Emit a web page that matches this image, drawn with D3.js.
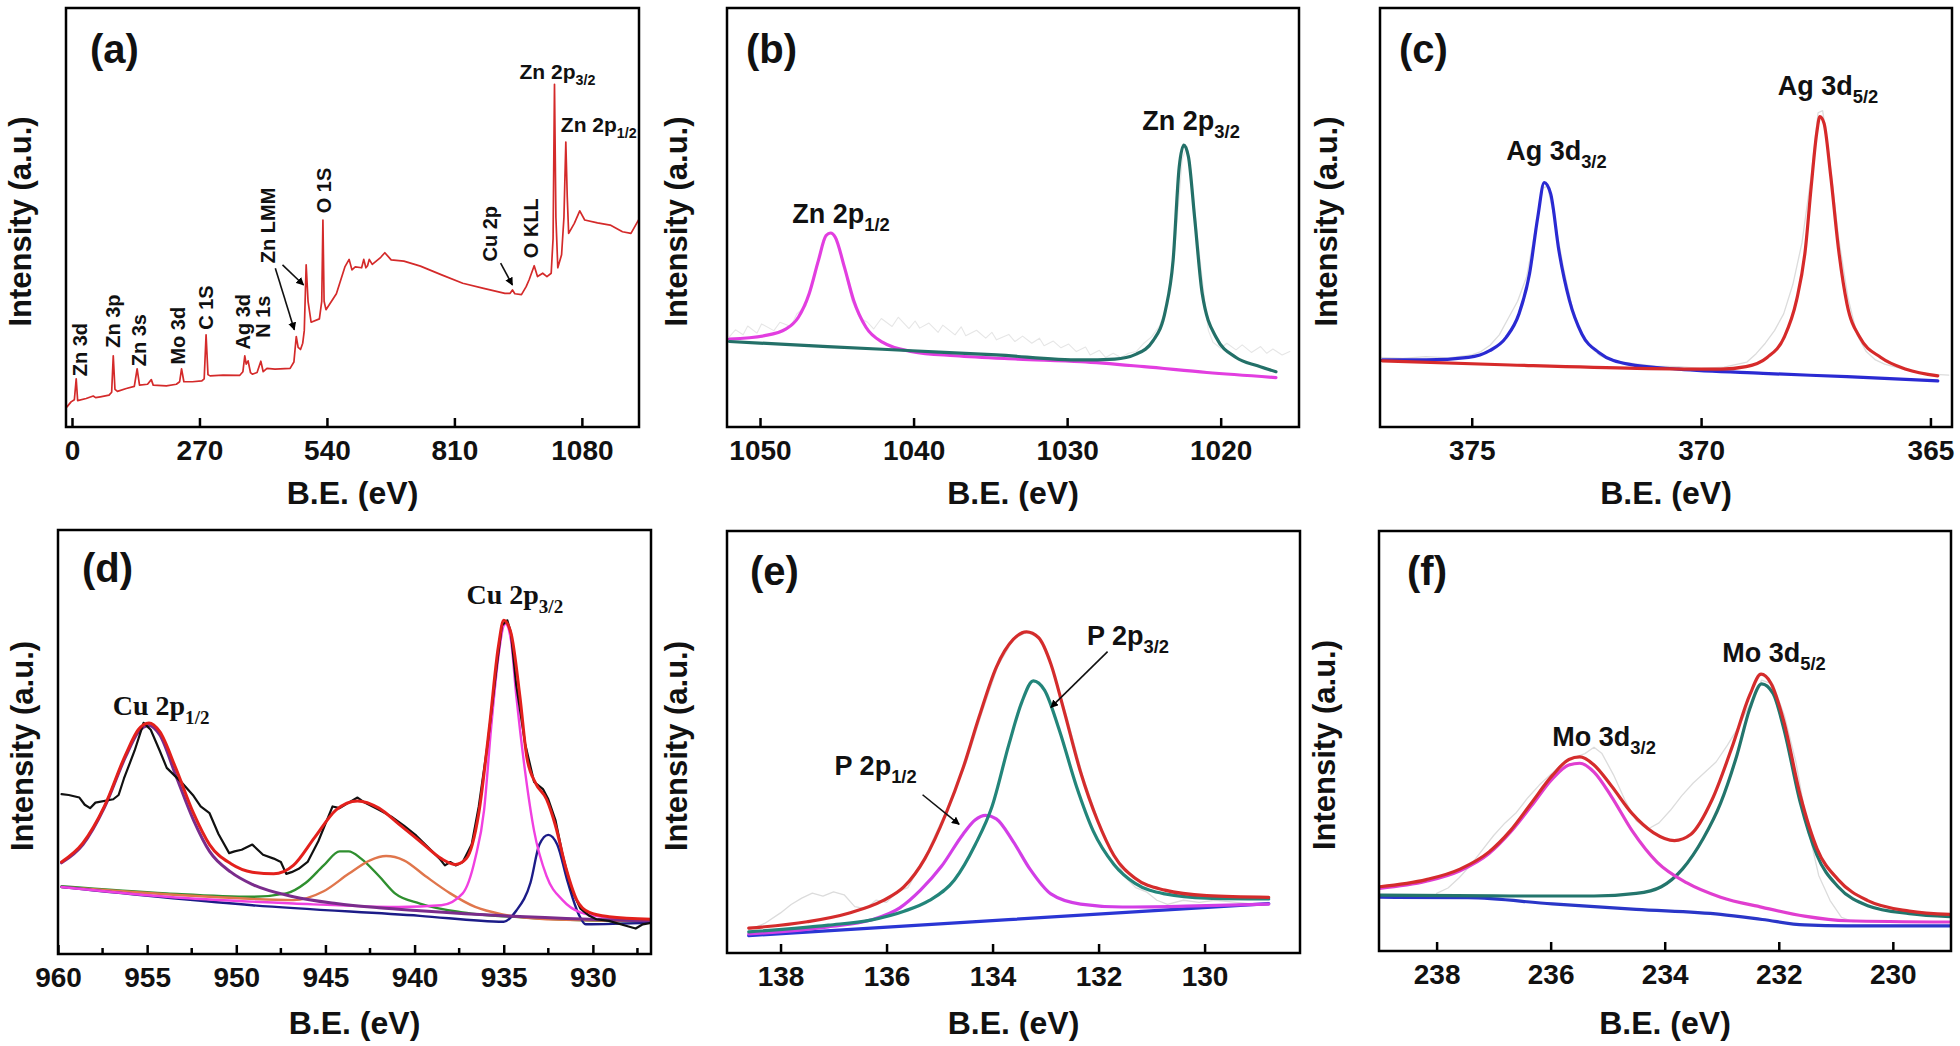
<!DOCTYPE html>
<html><head><meta charset="utf-8">
<script src="https://cdn.jsdelivr.net/npm/d3@7"></script>
<style>html,body{margin:0;padding:0;background:#fff}svg{display:block}</style>
</head><body>
<svg id="chart" width="1960" height="1046"></svg>
<script>
// ---------------- DATA (binding energy in eV, intensity in arbitrary units 0-100) ----------------
const ticksA = [0, 270, 540, 810, 1080];
const ticksB = [1050, 1040, 1030, 1020];
const ticksC = [375, 370, 365];
const ticksD = [960, 955, 950, 945, 940, 935, 930];
const minorD = [957.5, 952.5, 947.5, 942.5, 937.5, 932.5, 927.5];
const ticksE = [138, 136, 134, 132, 130];
const ticksF = [238, 236, 234, 232, 230];

const surveyData = [[-10.7,4.8],[-2,6.0],[5,6.5],[8.9,11.5],[12,6.3],[30,6.8],[45,7.4],[50,7.0],[60,7.2],[78.5,7.6],[84,8.3],[87.4,17.0],[91,9.0],[96.3,8.5],[115,9.2],[132,9.7],[138,13.9],[143,10.0],[160,10.2],[168,11.3],[172,10.0],[200,9.8],[221,10.2],[228,10.8],[232,13.9],[237,10.8],[255,10.8],[275,11.0],[280,11.5],[284,22.0],[288,12.5],[292.5,12.2],[320,12.4],[355,12.3],[362,13.2],[366,17.0],[369,15.0],[373,15.8],[378,13.0],[382,12.6],[392,13.0],[400,15.7],[405,13.2],[413,14.0],[430,13.8],[462,14.0],[470,15.5],[475,21.6],[479,19.0],[484,18.5],[488.7,20.0],[492,23.0],[496,38.7],[500,30.0],[506.5,25.0],[524,25.8],[529,30],[531.5,49.4],[534,30],[538,28.0],[560,31.8],[578,38.2],[587,40.0],[593,37.5],[600,38.2],[613.5,38.0],[618,40.0],[622.5,38.0],[626,38.5],[629.6,40.0],[636,38.8],[654,40.5],[662.6,41.6],[676,39.9],[703,39.6],[738,38.4],[783,36.3],[827.6,34.3],[872,33.1],[917,31.9],[928,31.9],[933,32.7],[938,31.8],[952,31.6],[962,33.5],[968.5,35.2],[979,38.5],[986,35.9],[997,36.7],[1006,35.9],[1015,36.7],[1019,45],[1022,81.8],[1025,50],[1029,38.0],[1037,41.1],[1042,50],[1046,68.0],[1049,55],[1052,46.2],[1064,48.6],[1075.5,51.6],[1086,49.4],[1113,48.7],[1140,48.2],[1166,46.6],[1184,46.2],[1198,49.0],[1202,49.8]];

const znRaw = [[1052.0,21.5],[1051.6,23.2],[1051.1,22.0],[1050.8,24.1],[1050.2,22.4],[1049.9,24.6],[1049.1,23.0],[1048.7,25.0],[1048.0,24.0],[1047.6,27.0],[1047,29],[1046.5,36],[1046,43],[1045.5,46.5],[1045,45],[1044.5,38],[1044,30],[1043.5,26],[1043.0,25.0],[1042.6,23.4],[1042.1,25.9],[1041.4,24.0],[1041.0,26.2],[1040.3,23.5],[1039.9,25.3],[1039.6,23.6],[1039.0,24.8],[1038.4,22.6],[1038.1,24.3],[1037.3,22.0],[1036.9,23.9],[1036.6,21.8],[1035.9,23.1],[1035.3,21.2],[1034.9,22.6],[1034.6,20.8],[1033.8,22.1],[1033.4,20.4],[1032.9,21.7],[1032.3,20.0],[1031.8,21.2],[1031.5,19.4],[1030.9,20.5],[1030.4,18.9],[1029.9,19.8],[1029.4,18.0],[1028.8,19.1],[1028.5,17.2],[1027.9,18.3],[1027.5,16.6],[1027.0,17.6],[1026.5,16.6],[1026.0,17.6],[1025.5,18],[1025,20],[1024.5,21.5],[1024,24],[1023.5,29],[1023,42],[1022.5,64],[1022.2,67],[1022,63],[1021.5,45],[1021,29],[1020.8,23],[1020.5,20.2],[1020.0,18.8],[1019.6,20.0],[1019.0,18.4],[1018.6,19.6],[1018.0,17.8],[1017.4,19.2],[1017.0,17.6],[1016.6,18.6],[1016.0,17.2],[1015.5,18.0]];
const zn2p12 = [[1052.0,21.0],[1049.7,21.8],[1048.3,23.4],[1047.5,26.2],[1046.8,31.8],[1046.2,39.7],[1045.7,45.7],[1045.4,46.3],[1045.1,45.3],[1044.5,38.1],[1043.9,30.2],[1043.1,23.8],[1042.0,20.2],[1040.1,18.0],[1037.3,17.0],[1033.2,16.2],[1029.1,15.6],[1025.0,14.4],[1020.9,13.0],[1016.4,11.8]];
const zn2p32 = [[1052.0,20.4],[1045.6,19.2],[1040.1,18.2],[1034.6,17.2],[1029.1,16.0],[1026.9,16.2],[1025.5,17.4],[1024.4,20.6],[1023.6,27.8],[1023.1,39.7],[1022.7,62.1],[1022.4,67.3],[1022.1,64.5],[1021.7,50.1],[1021.2,31.8],[1020.3,21.4],[1019.0,16.6],[1017.6,14.6],[1016.4,13.2]];

const agRaw = [[377,16.6],[376.5,16.4],[376,16.8],[375.5,16.5],[375,17.2],[374.8,18],[374.6,19.5],[374.4,22],[374.2,26],[374.0,30],[373.8,36],[373.6,48],[373.45,57],[373.35,57.5],[373.2,50],[373.0,38],[372.8,28],[372.6,22],[372.4,19],[372.2,17],[372,16],[371.5,15.2],[371,14.5],[370.5,14.4],[370,14.0],[369.5,14.3],[369.0,15.5],[368.8,17.5],[368.6,20],[368.4,23],[368.2,27],[368.0,34],[367.8,44],[367.6,60],[367.45,75],[367.35,75.5],[367.2,64],[367.0,45],[366.8,31],[366.6,22],[366.4,18],[366.2,16],[366,15],[365.5,13.5],[365,12.6],[364.6,12.4]];
const ag3d32 = [[376.95,16.0],[375.99,16.0],[375.07,16.6],[374.61,18.2],[374.25,21.4],[373.97,27.0],[373.74,36.6],[373.56,50.1],[373.42,58.3],[373.28,55.7],[373.10,42.1],[372.87,30.2],[372.60,22.2],[372.23,17.8],[371.59,15.0],[370.49,13.8],[368.65,12.8],[366.82,12.0],[364.84,11.0]];
const ag3d52 = [[376.95,15.8],[374.16,14.8],[371.40,14.0],[369.57,13.8],[369.02,14.4],[368.56,16.6],[368.19,21.4],[367.92,30.2],[367.73,42.1],[367.60,57.3],[367.48,70.1],[367.41,74.1],[367.32,72.5],[367.18,60.5],[367.00,42.1],[366.82,29.4],[366.54,21.4],[366.08,16.6],[365.53,13.8],[364.84,12.2]];

const cuRaw = [[959.8,37.7],[959.4,37.5],[958.8,36.9],[958.5,35.2],[958.2,34.4],[957.9,35.7],[956.9,36.5],[956.6,37.5],[956.3,41.4],[955.7,48.0],[955.2,54.5],[954.8,52.9],[954.3,48.0],[953.9,43.9],[953.1,40.6],[952.4,37.3],[952.0,34.8],[951.5,33.2],[951.0,28.3],[950.4,23.8],[950.1,24.2],[949.7,24.6],[949.1,25.8],[948.5,23.4],[947.9,22.5],[947.5,21.7],[947.2,18.9],[946.9,19.3],[946.5,20.1],[946.0,21.7],[945.4,26.6],[944.6,34.8],[944.2,34.4],[943.7,35.7],[943.2,36.9],[942.8,35.7],[942.0,34.0],[941.3,32.4],[940.6,30.3],[939.9,27.9],[939.2,25.0],[938.6,22.5],[938.3,20.9],[938.0,21.7],[937.7,20.9],[937.3,21.7],[936.8,25.8],[936.4,34.8],[935.9,49.6],[935.4,67.6],[935.1,77.5],[934.8,78.7],[934.6,75.8],[934.3,63.5],[933.8,49.6],[933.3,40.6],[932.8,38.9],[932.5,36.5],[932.1,31.6],[931.7,23.4],[931.2,15.2],[930.7,10.7],[930.2,9.0],[929.8,8.2],[929.1,7.8],[928.1,6.6],[927.6,6.0],[927.2,7.0],[926.7,7.4]];
const cuFit = [[959.8,21.7],[958.6,26.2],[957.4,34.8],[956.2,47.1],[955.5,52.9],[954.9,54.5],[954.3,52.5],[953.4,43.9],[952.4,33.2],[951.5,25.8],[950.3,21.3],[949.1,19.3],[947.9,18.9],[946.8,20.9],[945.6,27.5],[944.4,34.0],[943.2,36.1],[942.0,34.4],[940.9,30.7],[939.7,26.6],[938.5,22.5],[937.7,21.1],[937.1,22.5],[936.4,33.2],[935.8,53.7],[935.3,72.5],[935.0,78.7],[934.6,75.8],[934.1,61.0],[933.7,46.3],[933.2,40.2],[932.6,36.5],[932.1,30.3],[931.5,20.1],[930.9,12.7],[930.2,9.8],[929.1,8.8],[926.7,8.2]];
const cu2p12 = [[959.8,21.5],[958.6,25.8],[957.4,34.5],[956.2,46.6],[955.5,52.3],[954.9,53.9],[954.3,51.7],[953.4,42.2],[952.4,31.6],[951.5,24.2],[950.3,19.3],[949.1,16.4],[946.8,13.5],[944.4,11.9],[942.0,10.9],[939.7,10.2],[935.0,9.0],[930.2,8.2],[926.7,7.8]];
const cuSat1 = [[959.8,16.0],[953.9,14.3],[949.1,13.5],[947.2,14.3],[946.1,16.8],[945.1,20.9],[944.2,24.2],[943.7,24.2],[943.0,22.5],[942.0,18.4],[941.1,14.3],[939.7,11.9],[937.3,9.8],[933.8,8.6],[926.7,7.6]];
const cuSat2 = [[959.8,15.8],[951.5,13.5],[946.8,12.7],[945.1,14.8],[943.7,18.9],[942.5,22.1],[941.6,23.1],[940.6,22.1],[939.4,18.4],[938.0,14.3],[936.6,11.1],[935.0,9.3],[932.6,8.2],[926.7,7.8]];
const cu2p32 = [[959.8,15.8],[953.9,13.5],[946.8,11.9],[940.9,11.1],[938.5,11.5],[937.3,14.3],[936.6,22.5],[936.1,34.0],[935.7,53.7],[935.3,70.1],[935.0,77.5],[934.9,77.9],[934.6,74.2],[934.3,61.1],[933.8,43.0],[933.3,29.1],[932.6,18.4],[931.7,12.7],[930.7,9.8],[929.1,8.6],[926.7,7.8]];
const cuShoulder = [[959.8,15.8],[949.1,11.5],[939.7,9.0],[935.0,7.6],[934.3,10.2],[933.5,16.8],[933.0,25.8],[932.5,28.1],[932.0,25.8],[931.4,16.8],[930.8,9.4],[930.4,7.0],[926.7,7.4]];

const pRaw = [[138.6,5.5],[138.3,7],[138.0,9.5],[137.8,11.5],[137.6,13.0],[137.4,14.2],[137.2,13.5],[137.0,14.5],[136.8,13.8],[136.6,11.0],[136.4,10.5],[136.2,12.5],[136.0,12.0],[135.8,14.5],[135.6,15.5],[135.3,22],[134.9,33],[134.5,45],[134.2,57],[133.9,68],[133.6,74.5],[133.35,76],[133.1,74.5],[132.9,68.5],[132.6,56],[132.3,42],[132.0,31],[131.7,23],[131.5,18],[131.3,15.5],[131.1,14.5],[130.9,12.5],[130.7,11.5],[130.4,12.5],[130.1,12.0],[129.8,12.5],[129.4,12.0],[129.0,11.5],[128.8,12.0]];
const pBase = [[138.6,4.1],[133.7,7.9],[128.79,11.7]];
const pFit = [[138.6,5.9],[137.5,7.4],[136.7,9.5],[136.07,12.4],[135.67,15.7],[135.28,22.3],[134.88,33.0],[134.56,43.7],[134.25,56.1],[133.93,67.7],[133.61,74.3],[133.36,76.1],[133.13,74.7],[132.90,68.5],[132.66,57.8],[132.34,42.9],[132.02,31.4],[131.71,23.1],[131.31,17.7],[130.75,14.9],[129.96,13.6],[128.79,13.2]];
const p2p32 = [[138.6,5.0],[137.1,6.6],[136.3,7.8],[135.67,9.9],[135.2,12.4],[134.72,17.3],[134.33,25.6],[134.01,34.7],[133.69,49.5],[133.45,59.4],[133.23,64.5],[133.02,62.3],[132.74,52.8],[132.42,39.6],[132.10,28.9],[131.71,21.0],[131.31,16.5],[130.75,14.0],[129.96,13.0],[128.79,12.8]];
const p2p12 = [[138.6,4.5],[137.1,6.2],[136.3,7.8],[135.75,10.7],[135.36,14.9],[134.96,20.6],[134.56,28.1],[134.33,31.5],[134.13,32.6],[133.93,31.8],[133.61,26.4],[133.29,19.8],[132.9,14.0],[132.34,11.6],[131.55,10.9],[130.36,11.1],[128.79,11.6]];

const moRaw = [[238.0,13.7],[237.8,15.0],[237.6,17.5],[237.4,20.5],[237.2,24],[237.0,27.5],[236.8,30.5],[236.6,33],[236.4,36.5],[236.2,39.5],[236.0,42],[235.8,44.5],[235.6,46],[235.4,47],[235.24,48.5],[235.1,47],[234.9,42],[234.7,36],[234.5,31],[234.3,29],[234.1,30.5],[233.9,33.5],[233.7,37],[233.5,40],[233.3,42.5],[233.1,45],[232.9,49],[232.7,53.5],[232.5,59],[232.3,64.5],[232.1,63.5],[231.9,56],[231.7,45],[231.5,30],[231.3,18],[231.1,12],[230.9,8],[230.7,7],[230.5,7.2]];
const moFit = [[239.0,15.3],[238.18,17.0],[237.59,19.5],[237.08,23.6],[236.71,28.6],[236.34,35.2],[235.97,41.8],[235.68,45.6],[235.49,46.2],[235.24,44.3],[234.94,39.4],[234.57,32.7],[234.2,28.2],[233.83,26.3],[233.54,27.8],[233.17,36.0],[232.80,49.3],[232.51,60.9],[232.31,65.9],[232.14,63.8],[231.92,55.1],[231.62,36.9],[231.33,24.4],[230.96,17.0],[230.44,12.0],[229.71,9.5],[229.0,8.7]];
const mo3d32 = [[239.0,14.9],[238.18,16.6],[237.59,19.1],[237.08,23.2],[236.71,28.2],[236.34,34.5],[235.97,41.0],[235.68,44.3],[235.49,44.7],[235.24,42.6],[234.94,36.9],[234.57,28.6],[234.13,21.1],[233.61,16.2],[233.02,12.8],[232.29,10.4],[231.55,8.3],[230.81,7.2],[229.0,6.9]];
const mo3d52 = [[239.0,13.3],[236.71,13.1],[235.24,13.1],[234.5,13.7],[234.06,15.3],[233.69,19.5],[233.32,26.9],[233.02,35.2],[232.73,46.8],[232.51,57.6],[232.3,63.6],[232.1,61.3],[231.92,53.4],[231.62,35.2],[231.33,22.8],[230.96,15.3],[230.44,10.8],[229.71,8.9],[229.0,8.2]];
const moBase = [[239.0,12.8],[237.45,12.7],[235.97,11.2],[234.5,9.9],[233.02,8.7],[232.29,7.5],[231.55,6.2],[230.81,6.0],[229.0,6.0]];

// ---------------- DRAWING ----------------
const SANS = "'Liberation Sans', Arial, Helvetica, sans-serif";
const SERIF = "'Liberation Serif', 'Times New Roman', serif";
const svg = d3.select('#chart');
svg.append('rect').attr('width',1960).attr('height',1046).attr('fill','#fff');
const defs = svg.append('defs');
defs.append('marker').attr('id','arr').attr('viewBox','0 0 10 10').attr('refX',9).attr('refY',5)
  .attr('markerWidth',5).attr('markerHeight',5).attr('orient','auto')
  .append('path').attr('d','M0,0L10,5L0,10z').attr('fill','#000');

function addLabel(g, x, y, main, sub, opts) {
  const t = g.append('text').attr('x', x).attr('y', y)
    .attr('font-family', opts.font || SANS).attr('font-weight','bold')
    .attr('font-size', opts.size).attr('fill','#111');
  if (opts.rotate) t.attr('transform', `rotate(-90 ${x} ${y})`);
  t.append('tspan').text(main);
  if (sub) t.append('tspan').attr('font-size', (opts.size*0.68)).attr('dy', opts.size*0.3).text(sub);
  return t;
}

function panel(cfg) {
  const g = svg.append('g');
  const x = d3.scaleLinear().domain(cfg.xDomain).range([cfg.left, cfg.right]);
  const y = d3.scaleLinear().domain([0,100]).range([cfg.bottom, cfg.top]);
  const cid = 'clip' + cfg.id;
  defs.append('clipPath').attr('id', cid).append('rect')
    .attr('x', cfg.left).attr('y', cfg.top).attr('width', cfg.right-cfg.left).attr('height', cfg.bottom-cfg.top);
  const plot = g.append('g').attr('clip-path', `url(#${cid})`);
  cfg.series.forEach(s => {
    const line = d3.line().x(d => x(d[0])).y(d => y(d[1]))
      .curve(s.smooth ? d3.curveMonotoneX : d3.curveLinear);
    plot.append('path').datum(s.data).attr('d', line).attr('fill','none')
      .attr('stroke', s.color).attr('stroke-width', s.width)
      .attr('stroke-linejoin','round').attr('stroke-linecap','round');
  });
  const ax = g.append('g').attr('transform', `translate(0,${cfg.bottom})`)
    .call(d3.axisBottom(x).tickValues(cfg.ticks).tickFormat(d3.format('d'))
      .tickSizeInner(-9).tickSizeOuter(0).tickPadding(13));
  ax.select('.domain').remove();
  ax.selectAll('.tick line').attr('stroke','#000').attr('stroke-width',2.5);
  ax.selectAll('.tick text').attr('font-family',SANS).attr('font-weight','bold')
    .attr('font-size',28).attr('fill','#111');
  if (cfg.minor) {
    g.append('g').selectAll('line').data(cfg.minor).join('line')
      .attr('x1', d => x(d)).attr('x2', d => x(d)).attr('y1', cfg.bottom).attr('y2', cfg.bottom - 6)
      .attr('stroke','#000').attr('stroke-width',2.5);
  }
  g.append('rect').attr('x', cfg.left).attr('y', cfg.top)
    .attr('width', cfg.right-cfg.left).attr('height', cfg.bottom-cfg.top)
    .attr('fill','none').attr('stroke','#000').attr('stroke-width',2.5);
  g.append('text').attr('x', (cfg.left+cfg.right)/2).attr('y', cfg.xTitleY)
    .attr('text-anchor','middle').attr('font-family',SANS).attr('font-weight','bold')
    .attr('font-size',32).attr('fill','#111').text('B.E. (eV)');
  const yc = (cfg.top+cfg.bottom)/2 + 4;
  g.append('text').attr('x', cfg.yTitleX).attr('y', yc)
    .attr('transform', `rotate(-90 ${cfg.yTitleX} ${yc})`)
    .attr('text-anchor','middle').attr('font-family',SANS).attr('font-weight','bold')
    .attr('font-size',31).attr('fill','#111').text('Intensity (a.u.)');
  g.append('text').attr('x', cfg.letter[0]).attr('y', cfg.letter[1])
    .attr('font-family',SANS).attr('font-weight','bold').attr('font-size',40)
    .attr('fill','#111').text(cfg.name);
  (cfg.labels || []).forEach(l => {
    if (l.rotate) addLabel(g, x(l.at[0]) + 7, y(l.at[1]), l.main, l.sub, {size: l.size, rotate: true, font: l.font});
    else addLabel(g, x(l.at[0]), y(l.at[1]), l.main, l.sub, {size: l.size, font: l.font});
  });
  (cfg.arrows || []).forEach(a => {
    g.append('line').attr('x1', x(a[0][0])).attr('y1', y(a[0][1]))
      .attr('x2', x(a[1][0])).attr('y2', y(a[1][1]))
      .attr('stroke','#111').attr('stroke-width',1.6).attr('marker-end','url(#arr)');
  });
}

const TOP = {top: 8, bottom: 427, xTitleY: 504};
const BOT = {xTitleY: 1034};

panel({id:'a', name:'(a)', left:66, right:639, ...TOP, yTitleX:31, letter:[90,63],
  xDomain:[-12.7, 1201], ticks: ticksA,
  series:[{data: surveyData, color:'#d42a2a', width:1.7}],
  labels:[
    {main:'Zn 3d', at:[16.1,12.1], rotate:true, size:20},
    {main:'Zn 3p', at:[87.4,18.9], rotate:true, size:20},
    {main:'Zn 3s', at:[140.9,14.5], rotate:true, size:20},
    {main:'Mo 3d', at:[225.6,14.9], rotate:true, size:20},
    {main:'C 1S', at:[283.6,23.2], rotate:true, size:20},
    {main:'Ag 3d', at:[361.2,18.5], rotate:true, size:20},
    {main:'N 1s', at:[404.0,21.3], rotate:true, size:20},
    {main:'Zn LMM', at:[414.7,39.1], rotate:true, size:20},
    {main:'O 1S', at:[533.3,51.0], rotate:true, size:20},
    {main:'Cu 2p', at:[885.6,39.5], rotate:true, size:20},
    {main:'O KLL', at:[972.1,40.3], rotate:true, size:20},
    {main:'Zn 2p', sub:'3/2', at:[948,83.1], size:21},
    {main:'Zn 2p', sub:'1/2', at:[1035.5,70.4], size:21}
  ],
  arrows:[[[430.7,37.9],[470.9,23.2]],[[445.9,38.7],[490.5,33.9]],[[907.9,39.1],[932.8,33.9]]]
});

panel({id:'b', name:'(b)', left:727, right:1299, ...TOP, yTitleX:687, letter:[746,63],
  xDomain:[1052.15, 1014.9], ticks: ticksB,
  series:[{data: znRaw, color:'#e6e6e6', width:1.1},
          {data: zn2p12, color:'#e23ee0', width:3.2, smooth:true},
          {data: zn2p32, color:'#237068', width:3.2, smooth:true}],
  labels:[{main:'Zn 2p', sub:'1/2', at:[1047.9,48.7], size:27},
          {main:'Zn 2p', sub:'3/2', at:[1025.1,70.9], size:27}]
});

panel({id:'c', name:'(c)', left:1380, right:1952, ...TOP, yTitleX:1337, letter:[1399,63],
  xDomain:[377.0, 364.53], ticks: ticksC,
  series:[{data: agRaw, color:'#dcdcdc', width:1.3},
          {data: ag3d32, color:'#2a2ad2', width:3.2, smooth:true},
          {data: ag3d52, color:'#d62a2a', width:3.2, smooth:true}],
  labels:[{main:'Ag 3d', sub:'3/2', at:[374.25,63.7], size:27},
          {main:'Ag 3d', sub:'5/2', at:[368.33,79.2], size:27}]
});

panel({id:'d', name:'(d)', left:58, right:651, top:530, bottom:954, ...BOT, yTitleX:33, letter:[82,582],
  xDomain:[960.0, 926.74], ticks: ticksD, minor: minorD,
  series:[{data: cuSat1, color:'#2f8f2f', width:2.4, smooth:true},
          {data: cuSat2, color:'#e0764c', width:2.4, smooth:true},
          {data: cuShoulder, color:'#1c1c88', width:2.4, smooth:true},
          {data: cu2p32, color:'#f040e0', width:2.4, smooth:true},
          {data: cu2p12, color:'#7a2c8c', width:3, smooth:true},
          {data: cuRaw, color:'#111', width:2.2},
          {data: cuFit, color:'#e3201c', width:3, smooth:true}],
  labels:[{main:'Cu 2p', sub:'1/2', at:[956.93,56.3], size:28, font:SERIF},
          {main:'Cu 2p', sub:'3/2', at:[937.09,82.5], size:28, font:SERIF}]
});

panel({id:'e', name:'(e)', left:727, right:1300, top:531, bottom:953, ...BOT, yTitleX:687, letter:[750,585],
  xDomain:[139.01, 128.2], ticks: ticksE,
  series:[{data: pRaw, color:'#dcdcdc', width:1.3},
          {data: pBase, color:'#2a36d4', width:3.2, smooth:true},
          {data: p2p12, color:'#d23ee6', width:3.2, smooth:true},
          {data: p2p32, color:'#23857a', width:3.2, smooth:true},
          {data: pFit, color:'#d42c2c', width:3.2, smooth:true}],
  labels:[{main:'P 2p', sub:'3/2', at:[132.22,73.0], size:27},
          {main:'P 2p', sub:'1/2', at:[136.98,42.1], size:27}],
  arrows:[[[131.83,71.4],[132.90,58.2]],[[135.32,37.5],[134.63,30.5]]]
});

panel({id:'f', name:'(f)', left:1379, right:1951, top:531, bottom:951, ...BOT, yTitleX:1335, letter:[1407,585],
  xDomain:[239.01, 228.98], ticks: ticksF,
  series:[{data: moRaw, color:'#dcdcdc', width:1.3},
          {data: moBase, color:'#2a36c8', width:3.2, smooth:true},
          {data: mo3d52, color:'#23756c', width:3.2, smooth:true},
          {data: mo3d32, color:'#e03ed0', width:3.2, smooth:true},
          {data: moFit, color:'#d42c2c', width:3.2, smooth:true}],
  labels:[{main:'Mo 3d', sub:'5/2', at:[232.99,68.8], size:27},
          {main:'Mo 3d', sub:'3/2', at:[235.97,48.9], size:27}]
});
</script>
</body></html>
